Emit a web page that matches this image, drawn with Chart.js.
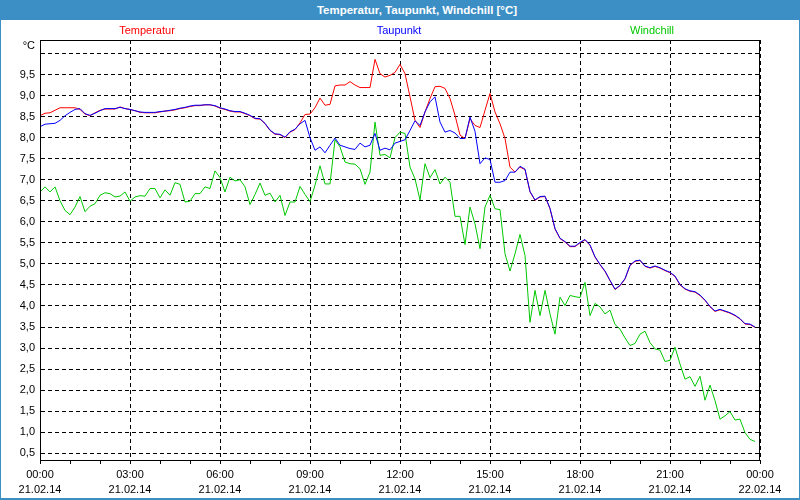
<!DOCTYPE html>
<html>
<head>
<meta charset="utf-8">
<script src="https://cdn.jsdelivr.net/npm/chart.js@4"></script>
<style>
  body { margin: 0; background: #fff; }
  #win { position: relative; width: 800px; height: 500px; overflow: hidden; }
  #box { position: absolute; left: 0; top: 0; width: 800px; height: 500px; }
  #title { position: absolute; left: 0; top: 0; width: 800px; height: 20px; background: #3c8fc5;
           color: #fff; font: bold 11.5px "Liberation Sans", Arial, sans-serif; line-height: 20px; }
  #title span { position: absolute; left: 417px; transform: translateX(-50%); white-space: nowrap; }
  #frame { position: absolute; left: 0; top: 0; width: 800px; height: 500px; box-sizing: border-box;
           border: 1px solid #3c8fc5; border-bottom-width: 2px; border-top: none; pointer-events: none; }
</style>
</head>
<body>
<div id="win">
  <div id="box"><canvas id="chart"></canvas></div>
  <div id="title"><span>Temperatur, Taupunkt, Windchill [°C]</span></div>
  <div id="frame"></div>
</div>
<script>
// Messwerte alle 10 Minuten, 21.02.14 00:00 bis 23:50
const intervalMin = 10;

const temperatur = [
  8.52, 8.58, 8.59, 8.65, 8.71, 8.71, 8.71, 8.71, 8.67, 8.56, 8.52, 8.59, 8.65, 8.68, 8.68, 8.68, 8.73, 8.69,
  8.67, 8.64, 8.60, 8.59, 8.59, 8.59, 8.61, 8.63, 8.64, 8.66, 8.69, 8.71, 8.74, 8.76, 8.76, 8.78, 8.78, 8.75,
  8.70, 8.67, 8.63, 8.61, 8.61, 8.57, 8.52, 8.45, 8.44, 8.33, 8.17, 8.08, 8.07, 8.00, 8.13, 8.19, 8.35, 8.55,
  8.56, 8.71, 8.94, 8.77, 8.79, 9.23, 9.25, 9.25, 9.33, 9.25, 9.19, 9.19, 9.19, 9.86, 9.52, 9.44, 9.48, 9.55,
  9.74, 9.52, 8.97, 8.41, 8.24, 8.61, 8.93, 9.21, 9.22, 9.17, 8.93, 8.53, 8.06, 7.98, 8.45, 8.29, 8.24, 8.65,
  9.05, 8.61, 8.33, 7.98, 7.30, 7.18, 7.30, 7.24, 6.71, 6.51, 6.59, 6.60, 6.31, 5.83, 5.60, 5.52, 5.41, 5.41,
  5.50, 5.57, 5.44, 5.16, 4.98, 4.82, 4.60, 4.39, 4.48, 4.64, 4.96, 5.06, 5.08, 4.94, 4.90, 4.94, 4.90, 4.84,
  4.79, 4.70, 4.50, 4.40, 4.35, 4.33, 4.25, 4.13, 3.98, 3.87, 3.91, 3.87, 3.83, 3.77, 3.69, 3.57, 3.56, 3.49
];

const taupunkt = [
  8.26, 8.32, 8.33, 8.34, 8.41, 8.52, 8.60, 8.67, 8.69, 8.57, 8.53, 8.58, 8.64, 8.69, 8.69, 8.69, 8.72, 8.69,
  8.67, 8.64, 8.61, 8.60, 8.60, 8.60, 8.62, 8.63, 8.65, 8.67, 8.70, 8.72, 8.75, 8.77, 8.77, 8.78, 8.78, 8.76,
  8.71, 8.68, 8.64, 8.62, 8.62, 8.58, 8.53, 8.46, 8.45, 8.34, 8.18, 8.09, 8.08, 8.01, 8.14, 8.20, 8.33, 8.41,
  8.00, 7.70, 7.78, 7.64, 7.82, 7.99, 7.82, 7.78, 7.74, 7.72, 7.87, 7.78, 7.82, 8.10, 7.70, 7.75, 7.71, 7.87,
  7.91, 7.95, 8.17, 8.40, 8.29, 8.61, 8.85, 8.97, 8.37, 8.13, 8.17, 8.11, 7.98, 7.98, 8.49, 8.15, 7.38, 7.52,
  7.48, 6.94, 6.94, 6.98, 7.18, 7.18, 7.32, 7.25, 6.72, 6.52, 6.60, 6.61, 6.32, 5.84, 5.61, 5.53, 5.42, 5.42,
  5.51, 5.58, 5.45, 5.17, 4.99, 4.83, 4.61, 4.40, 4.49, 4.65, 4.97, 5.07, 5.09, 4.95, 4.91, 4.95, 4.91, 4.85,
  4.80, 4.71, 4.51, 4.41, 4.36, 4.34, 4.26, 4.14, 3.99, 3.88, 3.92, 3.88, 3.84, 3.78, 3.70, 3.58, 3.57, 3.50
];

const windchill = [
  6.71, 6.83, 6.71, 6.83, 6.50, 6.27, 6.17, 6.35, 6.60, 6.24, 6.37, 6.43, 6.63, 6.69, 6.67, 6.59, 6.61, 6.71,
  6.49, 6.59, 6.62, 6.61, 6.79, 6.79, 6.57, 6.76, 6.63, 6.93, 6.89, 6.47, 6.49, 6.67, 6.67, 6.83, 6.79, 7.21,
  7.05, 6.71, 7.06, 6.97, 7.00, 6.83, 6.41, 6.65, 6.92, 6.63, 6.68, 6.47, 6.63, 6.15, 6.47, 6.47, 6.84, 6.65,
  6.48, 6.87, 7.33, 6.90, 6.90, 7.95, 7.78, 7.42, 7.38, 7.37, 7.26, 6.89, 7.18, 8.37, 7.58, 7.60, 7.52, 8.00,
  8.13, 8.10, 7.30, 7.02, 6.52, 7.38, 7.05, 7.24, 6.90, 7.06, 6.94, 6.13, 6.13, 5.46, 6.35, 5.95, 5.36, 6.35,
  6.63, 6.31, 6.29, 5.24, 4.83, 5.24, 5.70, 5.20, 3.61, 4.37, 3.77, 4.37, 3.81, 3.33, 4.21, 4.01, 4.25, 4.22,
  4.20, 4.56, 3.77, 4.06, 3.98, 3.81, 3.90, 3.56, 3.45, 3.24, 3.06, 3.11, 3.33, 3.40, 3.13, 2.98, 2.95, 2.68,
  2.71, 3.02, 2.62, 2.26, 2.32, 2.09, 2.33, 1.76, 2.12, 1.75, 1.31, 1.39, 1.49, 1.29, 1.31, 0.99, 0.83, 0.78
];

const xTickTimes = ['00:00', '03:00', '06:00', '09:00', '12:00', '15:00', '18:00', '21:00', '00:00'];
const xTickDates = ['21.02.14', '21.02.14', '21.02.14', '21.02.14', '21.02.14', '21.02.14', '21.02.14', '21.02.14', '22.02.14'];

const seriesNames = ['Temperatur', 'Taupunkt', 'Windchill'];
const seriesColors = ['#ff0000', '#0000ff', '#00c800'];
const legendX = [147, 399, 652];

const FONT = '"Liberation Sans", Arial, sans-serif';

function toPoints(values) {
  return values.map((v, i) => ({ x: i * intervalMin / 60, y: v }));
}

// Rahmen um die Zeichenfläche + Legende oben + Einheit
const decorPlugin = {
  id: 'decor',
  afterDraw(chart) {
    const { ctx, chartArea: a } = chart;
    ctx.save();
    ctx.strokeStyle = '#000';
    ctx.lineWidth = 1;
    ctx.strokeRect(a.left + 0.5, a.top + 0.5, a.right - a.left - 1, a.bottom - a.top);

    ctx.font = '11px ' + FONT;
    ctx.textAlign = 'center';
    ctx.textBaseline = 'middle';
    seriesNames.forEach((name, i) => {
      ctx.fillStyle = seriesColors[i];
      ctx.fillText(name, legendX[i], 31);
    });
    ctx.fillStyle = '#000';
    ctx.textAlign = 'right';
    ctx.fillText('°C', 35, 46);
    ctx.restore();
  }
};

const datasets = [temperatur, taupunkt, windchill].map((values, i) => ({
  label: seriesNames[i],
  data: toPoints(values),
  borderColor: seriesColors[i],
  borderWidth: 1,
  pointRadius: 0,
  tension: 0,
  fill: false,
  order: [1, 0, 2][i]   // Taupunkt über Temperatur
}));

new Chart(document.getElementById('chart'), {
  type: 'line',
  data: { datasets },
  options: {
    responsive: true,
    maintainAspectRatio: false,
    animation: false,
    layout: { padding: { top: 40, right: 40, left: 0, bottom: 0 } },
    plugins: { legend: { display: false }, tooltip: { enabled: false } },
    scales: {
      x: {
        type: 'linear',
        min: 0,
        max: 24,
        afterFit(scale) { scale.height = 40; },
        ticks: {
          stepSize: 1,
          autoSkip: false,
          maxRotation: 0,
          padding: 4,
          color: '#000',
          font: { family: FONT, size: 11, lineHeight: 1.35 },
          callback(v) {
            if (v % 3 !== 0) return '';
            const k = v / 3;
            return [xTickTimes[k], xTickDates[k]];
          }
        },
        grid: {
          color: (c) => (c.tick && c.tick.value % 3 === 0) ? '#000' : 'rgba(0,0,0,0)',
          tickColor: '#000',
          tickLength: 4,
          lineWidth: 1
        },
        border: { color: '#000', width: 1, dash: [4, 3] }
      },
      y: {
        min: 0.34,
        max: 10.32,
        afterFit(scale) { scale.width = 40; },
        ticks: {
          stepSize: 0.5,
          includeBounds: false,
          padding: 5,
          color: '#000',
          font: { family: FONT, size: 11 },
          callback(v) {
            if (Math.abs(v - 10) < 1e-6) return '';
            return v.toFixed(1).replace('.', ',');
          }
        },
        grid: { color: '#000', drawTicks: false, lineWidth: 1 },
        border: { color: '#000', width: 1, dash: [4, 3] }
      }
    }
  },
  plugins: [decorPlugin]
});
</script>
</body>
</html>
